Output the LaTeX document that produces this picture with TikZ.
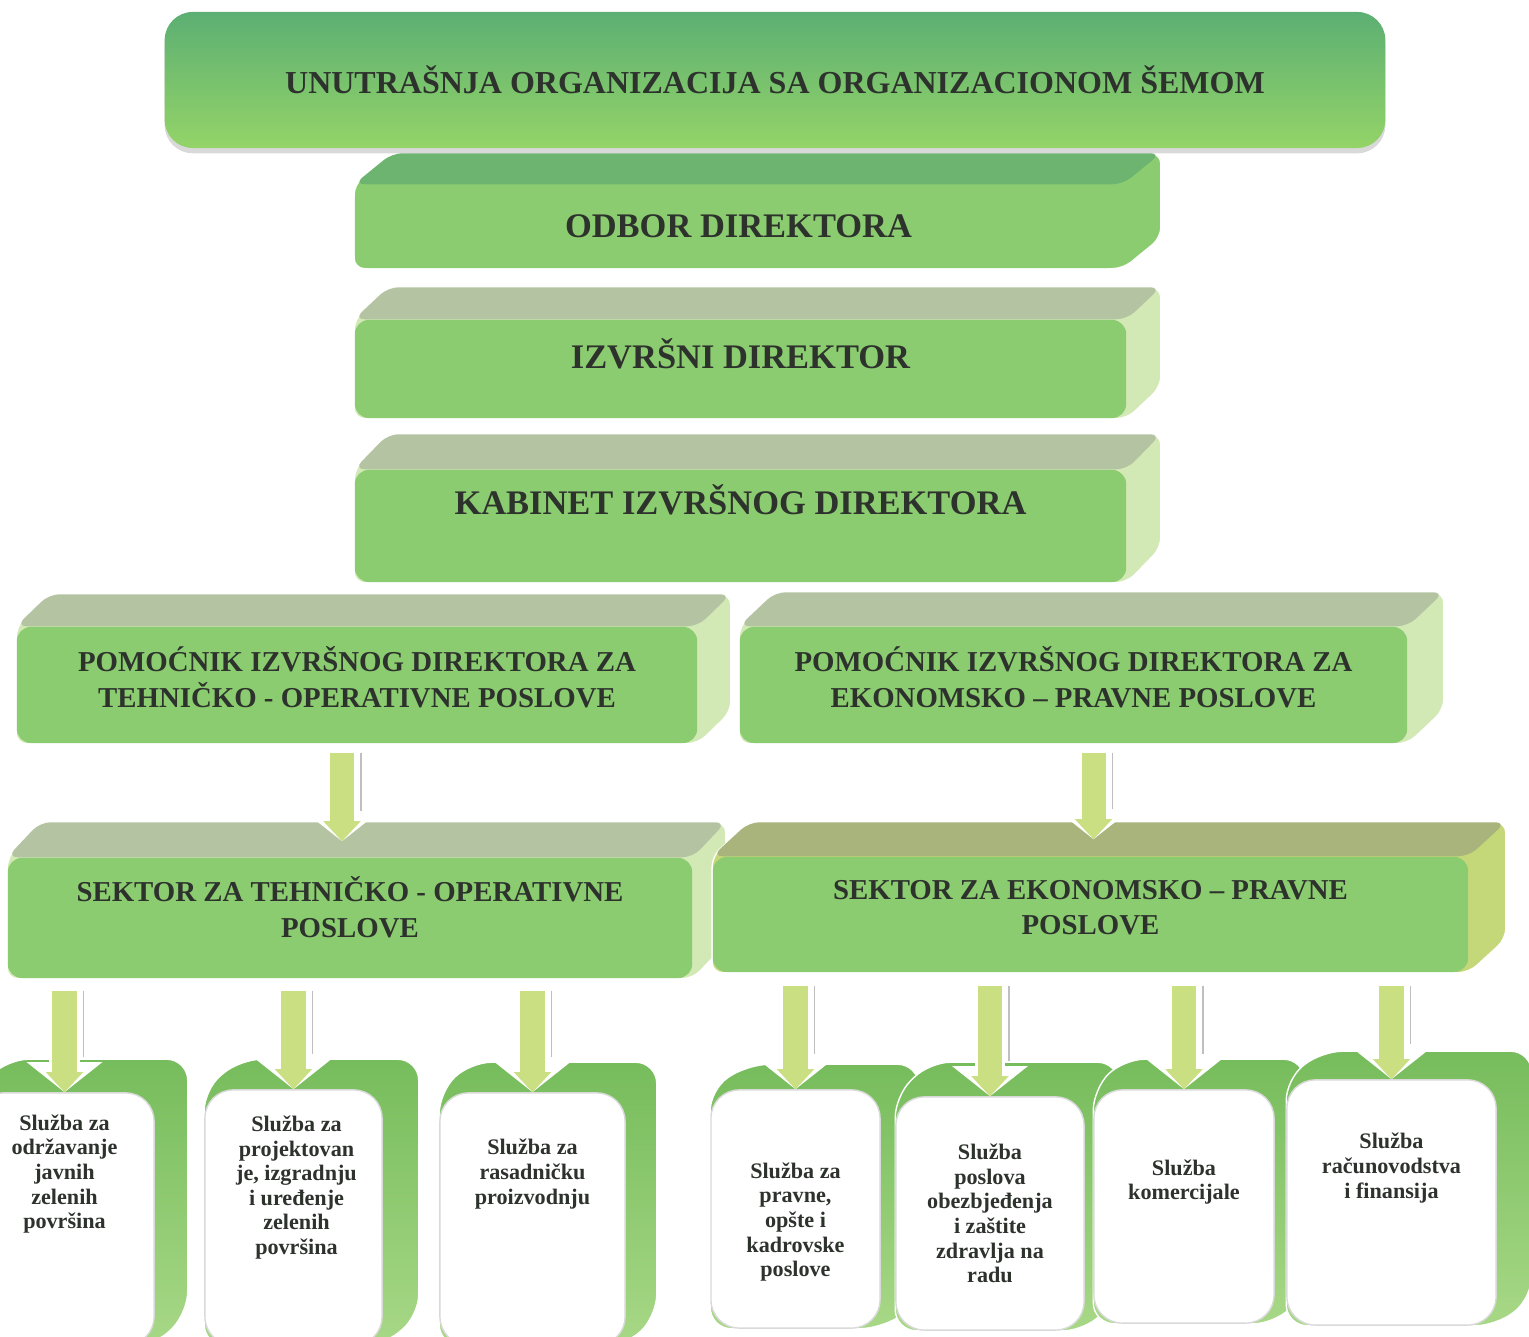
\documentclass[tikz,border=0pt]{standalone}
\usepackage{fontspec}
\setmainfont{Liberation Serif}
\usetikzlibrary{arrows.meta,backgrounds,calc,shadows}

\definecolor{frontgreen}{RGB}{140,204,112}
\definecolor{topgrey}{RGB}{180,196,162}
\definecolor{sidepale}{RGB}{210,233,182}
\definecolor{odbortop}{RGB}{108,180,112}
\definecolor{olivetop}{RGB}{168,180,124}
\definecolor{oliveside}{RGB}{196,216,122}
\definecolor{titletop}{RGB}{92,175,115}
\definecolor{titlebottom}{RGB}{148,212,104}
\definecolor{arrowgreen}{RGB}{202,222,130}
\definecolor{backgreen}{RGB}{118,188,92}
\definecolor{backlight}{RGB}{168,216,134}
\definecolor{textgrey}{RGB}{45,50,45}

\begin{document}
\begin{tikzpicture}[x=0.01cm, y=-0.01cm,
    titlebox/.style={top color=titletop, bottom color=titlebottom, rounded corners=8pt,
        drop shadow={shadow xshift=0pt, shadow yshift=-1.5pt, opacity=0.3},
        font=\bfseries\fontsize{9.1}{11}\selectfont, text=textgrey},
    frontbox/.style={fill=frontgreen, rounded corners=4pt, inner sep=0pt, align=center,
        font=\bfseries\fontsize{9.8}{10.6}\selectfont, text=textgrey},
    twoline/.style={font=\bfseries\fontsize{8.2}{10.2}\selectfont},
    whitebox/.style={fill=white, draw=gray!30, rounded corners=8pt, inner sep=0pt},
    servicetext/.style={font=\bfseries\fontsize{6.3}{7}\selectfont, text=textgrey, align=center},
    backpanel/.style={top color=backgreen, bottom color=backlight, draw=white, rounded corners=6pt},
    blockarrow/.style={draw=arrowgreen, line width=0.24cm, -{Triangle[length=0.2cm, width=0.36cm]},
        preaction={draw=gray!50, line width=0.5pt, -, transform canvas={xshift=0.19cm}, shorten >=0.35cm},
        preaction={draw=white, line width=0.30cm, -{Triangle[length=0.3cm, width=0.74cm]}}},
    lift/.style={text depth=#1}
]
    \useasboundingbox (0,0) rectangle (1529,1337);

    % Title
    \node[titlebox, minimum width=12.2cm, minimum height=1.36cm] (title) at (775,80)
        {UNUTRAŠNJA ORGANIZACIJA SA ORGANIZACIONOM ŠEMOM};

    % Management
    \node[frontbox, minimum width=7.67cm, minimum height=0.83cm] (odbor) at (738.5,226.5) {ODBOR DIREKTORA};
    \node[frontbox, minimum width=7.71cm, minimum height=0.98cm, lift=0.3cm] (izvrsni) at (740.5,369) {IZVRŠNI DIREKTOR};
    \node[frontbox, minimum width=7.71cm, minimum height=1.12cm, lift=0.53cm] (kabinet) at (740.5,526) {KABINET IZVRŠNOG DIREKTORA};

    % Assistants
    \node[frontbox, twoline, minimum width=6.80cm, minimum height=1.16cm, lift=0.16cm] (pomT) at (357,685)
        {POMOĆNIK IZVRŠNOG DIREKTORA ZA\\TEHNIČKO - OPERATIVNE POSLOVE};
    \node[frontbox, twoline, minimum width=6.67cm, minimum height=1.16cm, lift=0.16cm] (pomE) at (1073.5,685)
        {POMOĆNIK IZVRŠNOG DIREKTORA ZA\\EKONOMSKO – PRAVNE POSLOVE};

    % Sectors
    \node[frontbox, twoline, minimum width=6.84cm, minimum height=1.20cm, lift=0.22cm] (sekT) at (350,918)
        {SEKTOR ZA TEHNIČKO - OPERATIVNE\\POSLOVE};
    \node[frontbox, twoline, minimum width=7.55cm, minimum height=1.15cm, lift=0.14cm] (sekE) at (1090.5,914.5)
        {SEKTOR ZA EKONOMSKO – PRAVNE\\POSLOVE};

    % Services
    \node[whitebox, minimum width=1.79cm, minimum height=2.52cm,
        label={[servicetext, yshift=0.45cm]center:Služba za\\održavanje\\javnih\\zelenih\\površina}] (srvA) at (64.5,1219) {};
    \node[whitebox, minimum width=1.77cm, minimum height=2.55cm,
        label={[servicetext, yshift=0.3cm, xshift=0.03cm]center:Služba za\\projektovan\\je, izgradnju\\i uređenje\\zelenih\\površina}] (srvB) at (293.5,1217.5) {};
    \node[whitebox, minimum width=1.85cm, minimum height=2.52cm,
        label={[servicetext, yshift=0.45cm]center:Služba za\\rasadničku\\proizvodnju}] (srvC) at (532.5,1219) {};
    \node[whitebox, minimum width=1.69cm, minimum height=2.38cm,
        label={[servicetext, yshift=-0.13cm]center:Služba za\\pravne,\\opšte i\\kadrovske\\poslove}] (srvD) at (795.5,1209) {};
    \node[whitebox, minimum width=1.88cm, minimum height=2.33cm,
        label={[servicetext]center:Služba\\poslova\\obezbjeđenja\\i zaštite\\zdravlja na\\radu}] (srvE) at (990,1213.5) {};
    \node[whitebox, minimum width=1.80cm, minimum height=2.33cm,
        label={[servicetext, yshift=0.245cm]center:Služba\\komercijale}] (srvF) at (1184,1206.5) {};
    \node[whitebox, minimum width=2.09cm, minimum height=2.45cm,
        label={[servicetext, yshift=0.345cm]center:Služba\\računovodstva\\i finansija}] (srvG) at (1391.5,1202.5) {};

    % 3D faces behind the boxes
    \begin{pgfonlayer}{background}
        \foreach \b/\dx/\dy/\tc/\sc in {odbor/38/-31/odbortop/frontgreen, izvrsni/34/-32/topgrey/sidepale,
                kabinet/34/-35/topgrey/sidepale, pomT/33/-32/topgrey/sidepale, pomE/36/-34/topgrey/sidepale,
                sekT/33/-35/topgrey/sidepale, sekE/37/-34/olivetop/oliveside} {
            \filldraw[fill=\sc, draw=white, rounded corners=3pt] (\b.south west) -- (\b.north west) -- ++(\dx,\dy)
                -- ($(\b.north east)+(\dx,\dy)$) -- ($(\b.south east)+(\dx,\dy)$) -- (\b.south east) -- cycle;
            \fill[\tc, rounded corners=3pt] (\b.north west) -- ++(\dx,\dy) -- ($(\b.north east)+(\dx,\dy)$) -- (\b.north east) -- cycle;
        }
        \foreach \b/\dx/\dy in {srvA/33/-33, srvB/36/-30, srvC/31/-30, srvD/38/-25, srvE/34/-34, srvF/30/-30, srvG/35/-28} {
            \path[backpanel] (\b.south west) -- (\b.north west) -- ++(\dx,\dy)
                -- ($(\b.north east)+(\dx,\dy)$) -- ($(\b.south east)+(\dx,\dy)$) -- (\b.south east) -- cycle;
        }
    \end{pgfonlayer}

    % Arrows
    \draw[blockarrow, shorten <=0.09cm, shorten >=0.16cm] ([xshift=-0.15cm]pomT.south) -- ([xshift=-0.15cm]pomT.south |- sekT.north);
    \draw[blockarrow, shorten <=0.09cm, shorten >=0.17cm] ([xshift=0.2cm]pomE.south) -- ([xshift=0.2cm]pomE.south |- sekE.north);
    \foreach \s in {srvA,srvB,srvC} {
        \draw[blockarrow, shorten <=0.12cm] (sekT.south -| \s.north) -- (\s.north);
    }
    \foreach \s in {srvD,srvE,srvF,srvG} {
        \draw[blockarrow, shorten <=0.13cm] (sekE.south -| \s.north) -- (\s.north);
    }
\end{tikzpicture}
\end{document}
